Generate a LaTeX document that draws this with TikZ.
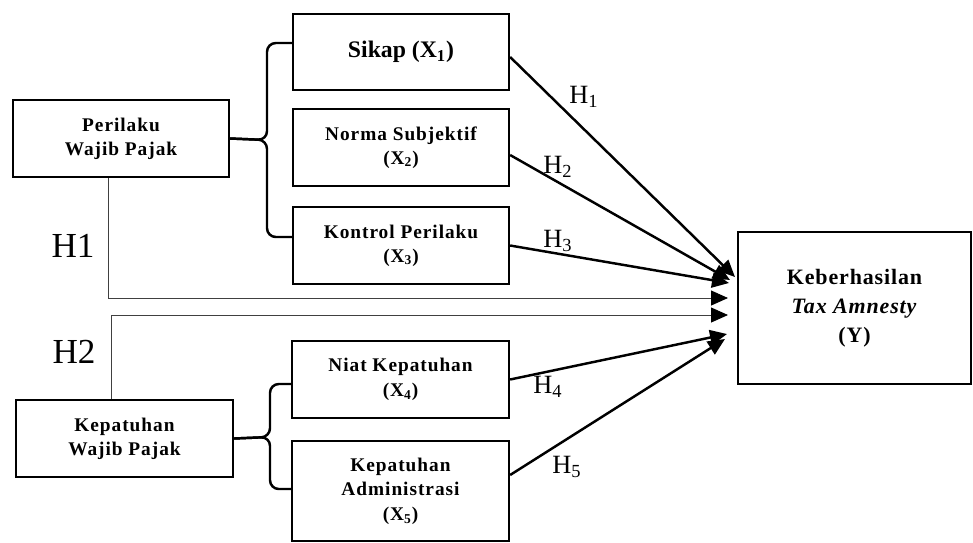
\documentclass[tikz,border=0pt]{standalone}
\usepackage{fontspec}
\setmainfont{Liberation Serif}
\usetikzlibrary{arrows.meta,calc}

\begin{document}
\begin{tikzpicture}[x=0.02cm,y=-0.02cm,every text node part/.style={align=center},
  var/.style={draw=black,line width=1.3pt,minimum width=4.32cm,minimum height=1.54cm,inner sep=2pt,font=\fontsize{11}{13.5}\selectfont\bfseries\addfontfeatures{LetterSpace=5}},
  hyp/.style={line width=1.4pt,-{Triangle[length=0.34cm,width=0.3cm]}},
  hline/.style={line width=0.5pt,black!75,-{Triangle[length=0.34cm,width=0.3cm,color=black]}},
  brace/.style={line width=1.4pt,rounded corners=5pt},
  hlab/.style={font=\fontsize{15}{17}\selectfont},
  biglab/.style={font=\fontsize{20}{22}\selectfont}]
\useasboundingbox (0,0) rectangle (973,542);
% boxes
\node[var] (pwp) at (121,138.5) {Perilaku\\Wajib Pajak};
\node[var,minimum width=4.34cm] (kwp) at (124.5,438.5) {Kepatuhan\\Wajib Pajak};
\node[var,minimum height=1.52cm,font=\fontsize{13.5}{16}\selectfont\bfseries] (x1) at (401,52) {Sikap (X\textsubscript{1})};
\node[var] (x2) at (401,147.5) {Norma Subjektif\\(X\textsubscript{2})};
\node[var] (x3) at (401,245.5) {Kontrol Perilaku\\(X\textsubscript{3})};
\node[var,minimum width=4.34cm,font=\fontsize{11}{14}\selectfont\bfseries\addfontfeatures{LetterSpace=5}] (x4) at (400.5,379.5) {Niat Kepatuhan\\(X\textsubscript{4})};
\node[var,minimum width=4.34cm,minimum height=2cm,font=\fontsize{11}{14}\selectfont\bfseries\addfontfeatures{LetterSpace=5}] (x5) at (400.5,491) {Kepatuhan\\Administrasi\\(X\textsubscript{5})};
\node[var,minimum width=4.66cm,minimum height=3.04cm,font=\fontsize{12.5}{16.5}\selectfont\bfseries\addfontfeatures{LetterSpace=4}] (y) at (854.5,308) {Keberhasilan\\\textit{Tax Amnesty}\\(Y)};
% braces
\coordinate (b1) at (267,140);
\coordinate (b2) at (270,437);
\draw[brace] ($(x1.west)+(0,-9)$) -| (b1) -- (pwp.east);
\draw[brace] ($(x3.west)+(0,-8.5)$) -| (b1) -- (pwp.east);
\draw[brace] ($(x4.west)+(0,4.5)$) -| (b2) -- (kwp.east);
\draw[brace] ($(x5.west)+(0,-2)$) -| (b2) -- (kwp.east);
% arrow ends
\coordinate (e1) at (735,277);
\coordinate (e2) at (730,280);
\coordinate (e3) at (729,283);
\coordinate (e4) at (727,334);
\coordinate (e5) at (725,339);
\coordinate (e6) at (728,298);
\coordinate (e7) at (728,315);
\draw[hyp] ($(x1.east)+(0,5)$) -- (e1);
\draw[hyp] ($(x2.east)+(0,7.5)$) -- (e2);
\draw[hyp] (x3.east) -- (e3);
\draw[hyp] (x4.east) -- (e4);
\draw[hyp] ($(x5.east)+(0,-16)$) -- (e5);
\draw[hline] ($(pwp.south)+(-13,0)$) |- (e6);
\draw[hline] ($(kwp.north)+(-13.5,0)$) |- (e7);
% labels
\node[hlab] (l1) at (584,97) {H\textsubscript{1}};
\node[hlab] (l2) at (558,167) {H\textsubscript{2}};
\node[hlab] (l3) at (558,241) {H\textsubscript{3}};
\node[hlab] (l4) at (548,387) {H\textsubscript{4}};
\node[hlab] (l5) at (567,467) {H\textsubscript{5}};
\node[biglab] (g1) at (73,246) {H1};
\node[biglab] (g2) at (74,352) {H2};
\end{tikzpicture}
\end{document}
